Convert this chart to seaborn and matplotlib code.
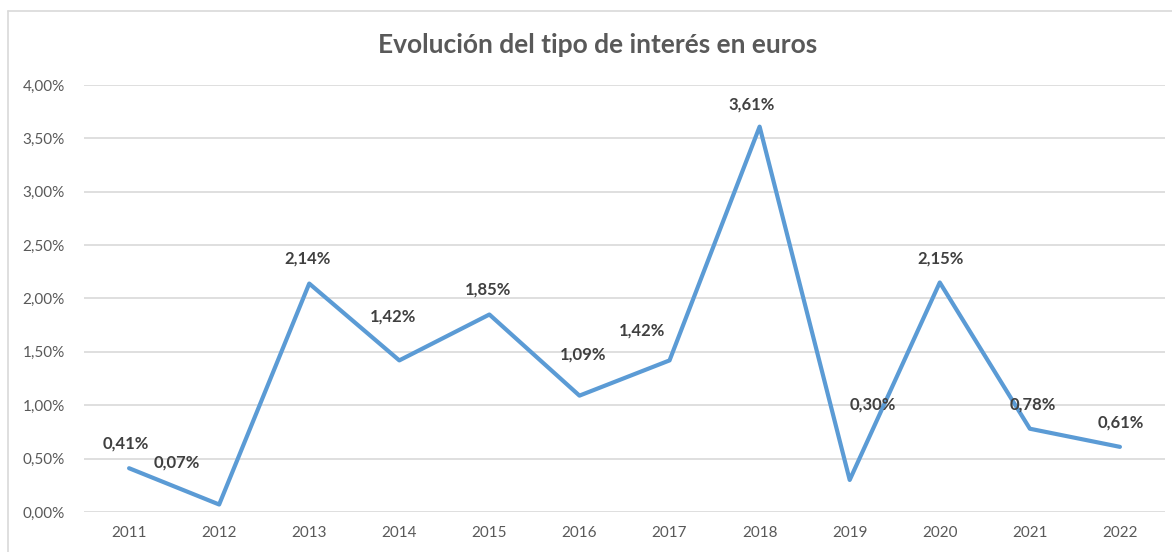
import pandas as pd
import matplotlib.pyplot as plt
import seaborn as sns
from matplotlib.ticker import FuncFormatter

# Data
years = [2011, 2012, 2013, 2014, 2015, 2016, 2017, 2018, 2019, 2020, 2021, 2022]
rates = [0.41, 0.07, 2.14, 1.42, 1.85, 1.09, 1.42, 3.61, 0.30, 2.15, 0.78, 0.61]
labels = ['0,41%', '0,07%', '2,14%', '1,42%', '1,85%', '1,09%',
          '1,42%', '3,61%', '0,30%', '2,15%', '0,78%', '0,61%']

df = pd.DataFrame({'year': years, 'rate': rates})

# label offsets in pixels (dx, dy) relative to each point
label_offsets = [(-3, 25), (-42, 42), (-2, 25), (-6, 44), (-1, 25), (4, 41),
                 (-27, 30), (-8, 22), (23, 75), (1, 24), (3, 24), (1, 24)]

sns.set_theme(style='white')
plt.rcParams['font.family'] = ['Lato', 'DejaVu Sans']

fig = plt.figure(figsize=(11.72, 5.52), dpi=100)
ax = fig.add_axes([0.0717, 0.0725, 0.9223, 0.7735])

sns.lineplot(data=df, x='year', y='rate', color='#5B9BD5', linewidth=3, ax=ax)

for yr, val, lab, (dx, dy) in zip(years, rates, labels, label_offsets):
    ax.annotate(lab, xy=(yr, val), xytext=(dx, dy), textcoords='offset pixels',
                ha='center', va='center', fontsize=12, fontweight='bold', color='#404040')

ax.set_xlim(2010.5, 2022.5)
ax.set_ylim(0, 4)
ax.set_yticks([0, 0.5, 1, 1.5, 2, 2.5, 3, 3.5, 4])
ax.yaxis.set_major_formatter(FuncFormatter(lambda v, p: f'{v:.2f}%'.replace('.', ',')))
ax.set_xticks(years)
ax.set_xticklabels([str(y) for y in years])
ax.tick_params(axis='both', labelsize=11, labelcolor='#595959', length=0)
ax.tick_params(axis='x', pad=10)
ax.tick_params(axis='y', pad=14)
ax.grid(axis='y', color='#D9D9D9', linewidth=1.2)
ax.set_axisbelow(True)
for s in ax.spines.values():
    s.set_visible(False)
ax.set_xlabel('')
ax.set_ylabel('')

# Title
fig.text(0.51, 0.918, 'Evolución del tipo de interés en euros', ha='center', va='center',
         fontsize=19, fontweight='bold', color='#595959')

# Chart area border
fig.add_artist(plt.Line2D([8 / 1172, 1], [1 - 11 / 552, 1 - 11 / 552], color='#D9D9D9', linewidth=1.2))
fig.add_artist(plt.Line2D([8 / 1172, 8 / 1172], [0, 1 - 11 / 552], color='#D9D9D9', linewidth=1.2))

fig.savefig('out.png', dpi=100)
